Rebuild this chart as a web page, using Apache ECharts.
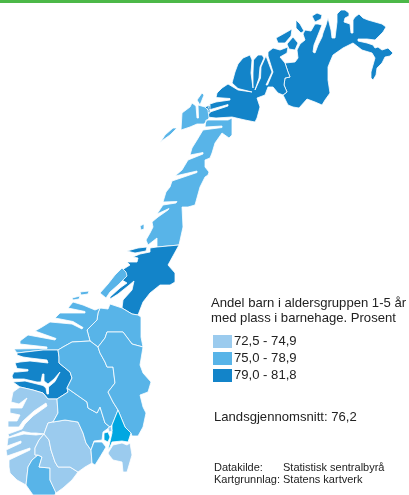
<!DOCTYPE html>
<html>
<head>
<meta charset="utf-8">
<title>Andel barn i barnehage</title>
<style>
html, body { margin: 0; padding: 0; background: #fff; }
#chart { width: 409px; height: 495px; }
</style>
<script src="https://cdn.jsdelivr.net/npm/echarts@6/dist/echarts.min.js"></script>
</head>
<body>
<div id="chart"></div>
<script>
// verdier lest av kartet (bare klassene kan leses, tallene er anslag innenfor klassen)
var regionNames = ['Finnmark', 'Troms', 'Nordland', 'Nord-Trøndelag', 'Sør-Trøndelag', 'Møre og Romsdal',
    'Sogn og Fjordane', 'Hordaland', 'Rogaland', 'Vest-Agder', 'Aust-Agder', 'Telemark', 'Buskerud',
    'Vestfold', 'Oppland', 'Hedmark', 'Akershus', 'Østfold'];
var regionValues = [80.5, 79.5, 77.5, 80, 77.5, 76, 81, 74, 74.5, 76.5, 74, 74, 76, 76, 77, 77, 82.5, 74];
var classLabels = ['72,5 - 74,9', '75,0 - 78,9', '79,0 - 81,8'];
var classMin = [72.5, 75, 79];
var classMax = [74.95, 78.95, 81.85];
var classColors = ['#9bcbee', '#58b4e8', '#1384c9'];

var titleLines = ['Andel barn i aldersgruppen 1-5 år', 'med plass i barnehage. Prosent'];
var averageText = 'Landsgjennomsnitt: 76,2';
var sourceLabels = ['Datakilde:', 'Kartgrunnlag:'];
var sourceValues = ['Statistisk sentralbyrå', 'Statens kartverk'];

// kartgeometri, en liste med flater per fylke. Fjordene er smale hakk i kysten
var shapes = {
    'Finnmark': [
        [[285,63],[295,62],[298,58],[297,50],[300,44],[305,40],[303,34],[305,30],[311,31],[315,24],[318,24],[322,25],[318,35],[314,45],[313,52],[315,53],[318,45],[322,37],[323,33],[326,25],[328,18],[331,30],[332,38],[335,38],[336,30],[337,22],[337,14],[341,10],[345,10],[349,13],[349,16],[345,18],[344,22],[350,24],[351,33],[353,33],[353,20],[355,17],[359,14],[363,18],[368,20],[375,22],[382,24],[386,27],[383,32],[378,37],[375,40],[367,39],[358,39],[358,41],[367,43],[373,45],[375,48],[378,47],[382,50],[385,49],[388,48],[393,53],[390,56],[385,57],[382,63],[377,68],[376,75],[373,80],[371,78],[371,72],[373,65],[375,58],[372,53],[362,50],[353,43],[343,48],[333,55],[330,62],[328,67],[328,80],[330,93],[325,100],[322,105],[315,102],[307,99],[299,108],[293,107],[288,105],[283,95],[287,92],[284,85],[285,78],[290,77],[288,72]],
        [[276,38],[285,33],[292,29],[291,36],[285,43],[278,43]],
        [[287,44],[293,37],[298,43],[295,50],[289,49]],
        [[296,20],[300,24],[304,31],[301,33],[296,28]],
        [[312,16],[317,13],[322,15],[321,19],[315,22]]
    ],
    'Troms': [
        [[283,95],[278,93],[273,87],[268,87],[265,95],[257,98],[260,107],[257,118],[255,122],[245,120],[232,117],[216,118],[207,117],[207,113],[228,106],[228,104.5],[207,110.5],[210,104],[216,102],[230,100],[230,98.5],[216,97.5],[217,93],[222,88],[228,84],[238,90],[252,92],[238,88.5],[232,83],[235,72],[238,64],[243,58],[250,55],[252,60],[251,73],[253,88],[253,73],[253.5,60],[258,55],[262,55],[264,58],[260,67],[259,78],[255,90],[260.5,78],[261,67],[265,58],[266,56],[272,72],[266,85],[267.5,85],[273,72],[268,56],[268,52],[273,48],[280,50],[288,47],[287,53],[280,57],[285,63],[288,72],[290,77],[285,78],[284,85],[287,92]],
        [[205,107],[210,105],[210,113],[205,115]]
    ],
    'Nordland': [
        [[232,118],[232,135],[229,138],[222,133],[215,143],[212,153],[210,158],[205,160],[205,167],[209,172],[208,175],[205,177],[200,187],[195,205],[188,207],[182,207],[183,227],[179,245],[157,247],[157,238],[148,245],[146,240],[150,233],[153,227],[152,222],[158,217],[168,210],[169,208.5],[157,214],[163,205],[176,203],[177,201.5],[163,202],[166,192],[170,187],[172,181],[197,172.5],[197,171],[175,176],[182,170],[188,160],[203,154],[203,152.5],[190,155],[192,148],[197,140],[203,130],[222,127.5],[222,126],[205,127],[206,120],[228,120]],
        [[197,100],[202,93],[204,95],[200,105]],
        [[182,113],[190,107],[192,103],[196,106],[197,118],[198.5,118],[198,105],[205,107],[208,110],[209,118],[204,124],[197,124],[190,127],[181,130]],
        [[160,143],[165,135],[173,128],[177,128],[170,135],[163,140]],
        [[140,226],[144,224],[144,229],[141,230]]
    ],
    'Nord-Trøndelag': [
        [[157,247],[179,245],[168,265],[175,273],[175,282],[170,285],[160,285],[150,293],[143,302],[138,315],[132,314],[122,308],[123,300],[132,290],[134,281],[128,286],[118,294],[110,299],[110,297],[120,288],[127,283],[122,280],[122,270],[130,265],[127,262],[137,262],[138,258],[133,257],[140,254],[150,252],[150,248]],
        [[127,251],[138,248],[147,247],[146,251],[135,253]]
    ],
    'Sør-Trøndelag': [
        [[122,308],[132,314],[138,315],[141,317],[141,337],[143,347],[132,344],[123,332],[107,332],[105,338],[98,347],[90,341],[87,330],[97,320],[98,313],[100,308],[108,309],[110,304]],
        [[100,293],[108,284],[115,275],[122,268],[126,272],[127,276],[118,285],[110,292],[106,298]]
    ],
    'Møre og Romsdal': [
        [[100,308],[98,313],[97,320],[87,330],[90,341],[72,342],[63,347],[58,350],[43,350],[17,353],[14,349],[47,348.5],[47,347],[20,344],[20,341],[28,335],[55,340],[56,338.5],[35,331],[42,327],[50,322],[72,324],[82,329],[83,327.5],[73,321.5],[55,318],[60,313],[85,313],[85,311.5],[68,308],[73,302],[83,305],[95,310]],
        [[80,292],[89,291],[88,294],[81,295]],
        [[72,298],[80,296],[79,299],[73,300]]
    ],
    'Sogn og Fjordane': [
        [[17,353],[43,350],[58,350],[59,357],[59,363],[70,372],[72,378],[67,388],[68,392],[57,399],[48,399],[43,393],[33,390],[20,387],[13,382],[25,381],[37,384],[43,385.5],[46,388],[47,394],[48.5,394],[48.5,387],[55,381.5],[60,372],[59,371],[54,379],[48,384],[44,381],[44,374],[42.5,374],[41,382],[37,382],[24,379],[13,379],[12,376],[14,372],[17,372],[28,371],[28,369.5],[17,368.5],[15,363],[20,362],[30,361],[48,363],[47,360],[30,358],[23,357],[17,355]]
    ],
    'Hordaland': [
        [[20,387],[33,390],[43,393],[48,399],[57,399],[58,413],[53,422],[48,423],[44,434],[36,433],[31,433],[23,431.5],[9,437],[8,434],[22,429],[25,424],[33,416],[47,406],[46,403],[34,411],[23,421],[19,427],[8,427],[8,421],[17,421],[20,415],[10,413],[10,408],[22,408],[27,398],[19,404],[11,402],[13,392]]
    ],
    'Rogaland': [
        [[44,434],[39,440],[35,448],[35,455],[38,455],[32,460],[28,467],[26,485],[17,480],[10,473],[9,467],[9,460],[30,450],[30,448],[7,456],[6,450],[21,443],[21,441],[7,446],[8,438],[24,434],[36,435]]
    ],
    'Vest-Agder': [
        [[38,455],[42,457],[39,467],[50,468],[50,480],[56,492],[55,495],[33,495],[26,485],[28,467],[32,460]]
    ],
    'Aust-Agder': [
        [[44,434],[49,440],[51,450],[55,462],[58,467],[70,467],[78,472],[72,480],[63,488],[56,493],[50,480],[50,468],[39,467],[42,457],[38,455],[35,455],[35,448],[39,440]]
    ],
    'Telemark': [
        [[44,434],[48,423],[53,422],[65,420],[78,422],[83,433],[86,443],[91,450],[92,463],[85,467],[78,472],[70,467],[58,467],[55,462],[51,450],[49,440]]
    ],
    'Buskerud': [
        [[57,399],[68,392],[67,388],[87,402],[88,408],[97,413],[100,407],[105,423],[110,427],[103,432],[102,440],[94,441],[91,450],[86,443],[83,433],[78,422],[65,420],[53,422],[58,413]]
    ],
    'Vestfold': [
        [[91,450],[94,442],[102,442],[106,447],[100,457],[95,465],[92,463]]
    ],
    'Oppland': [
        [[58,350],[63,347],[72,342],[90,341],[98,347],[100,353],[105,362],[107,367],[113,367],[115,383],[108,392],[113,402],[118,410],[112,425],[110,427],[105,423],[100,407],[97,413],[88,408],[87,402],[67,388],[72,378],[70,372],[59,363],[59,357]]
    ],
    'Hedmark': [
        [[98,347],[105,338],[107,332],[123,332],[132,344],[143,347],[140,365],[143,373],[151,382],[148,392],[140,395],[143,407],[146,413],[143,427],[138,436],[132,436],[131,433],[125,427],[118,410],[113,402],[108,392],[115,383],[113,367],[107,367],[105,362],[100,353]]
    ],
    'Akershus': [
        [[118,410],[125,427],[131,433],[128,442],[122,441],[112,442],[110,447],[108,450],[112,433],[112,425]],
        [[104,433],[108,432],[110,437],[108,442],[104,440]]
    ],
    'Østfold': [
        [[108,453],[113,445],[122,443],[127,445],[130,443],[132,455],[127,472],[123,472],[122,462],[113,460],[109,455]],
        [[108,428],[111,426],[112,431],[109,432]]
    ]
};

function buildGeoJson () {
    return {
        type: 'FeatureCollection',
        features: regionNames.map(function (name) {
            return {
                type: 'Feature',
                properties: { name: name },
                geometry: {
                    type: 'MultiPolygon',
                    coordinates: shapes[name].map(function (ring) {
                        return [ring.concat([ring[0]])];
                    })
                }
            };
        })
    };
}

function textItem (text, x, y, size) {
    return {
        type: 'text',
        left: x,
        top: y,
        silent: true,
        style: {
            text: text,
            fill: '#222',
            font: size + 'px "Liberation Sans", Arial, sans-serif'
        }
    };
}

function initChart () {
    echarts.registerMap('norge', buildGeoJson());
    var chart = echarts.init(document.getElementById('chart'), null, { renderer: 'canvas' });
    var option = {
        animation: false,
        backgroundColor: '#fff',
        graphic: [
            { type: 'rect', left: 0, top: 0, shape: { width: 409, height: 3 }, style: { fill: '#4cb848' }, silent: true },
            textItem(titleLines[0], 211, 297, 13.1),
            textItem(titleLines[1], 211, 312, 13.1),
            textItem(averageText, 214, 411, 13.1),
            textItem(sourceLabels[0], 214, 462, 11),
            textItem(sourceValues[0], 283, 462, 11),
            textItem(sourceLabels[1], 214, 474, 11),
            textItem(sourceValues[1], 283, 474, 11)
        ],
        visualMap: {
            type: 'piecewise',
            left: 213,
            top: 335,
            orient: 'vertical',
            inverse: true,
            align: 'left',
            padding: 0,
            itemWidth: 19,
            itemHeight: 13,
            itemGap: 4,
            itemSymbol: 'rect',
            textGap: 2,
            selectedMode: false,
            hoverLink: false,
            textStyle: { color: '#222', fontSize: 13.1, fontFamily: '"Liberation Sans", Arial, sans-serif' },
            pieces: classLabels.map(function (label, i) {
                return { min: classMin[i], max: classMax[i], label: label, color: classColors[i] };
            }),
            outOfRange: { color: '#00a7e1' }
        },
        series: [
            {
                type: 'map',
                map: 'norge',
                silent: true,
                roam: false,
                projection: {
                    project: function (p) { return [p[0], p[1]]; },
                    unproject: function (p) { return [p[0], p[1]]; }
                },
                boundingCoords: [[0, 0], [409, 495]],
                left: 0,
                top: 0,
                width: 409,
                height: 495,
                label: { show: false },
                itemStyle: { borderColor: '#fff', borderWidth: 0.8 },
                data: regionNames.map(function (name, i) {
                    return { name: name, value: regionValues[i] };
                })
            }
        ]
    };
    chart.setOption(option);
}

initChart();
</script>
</body>
</html>
